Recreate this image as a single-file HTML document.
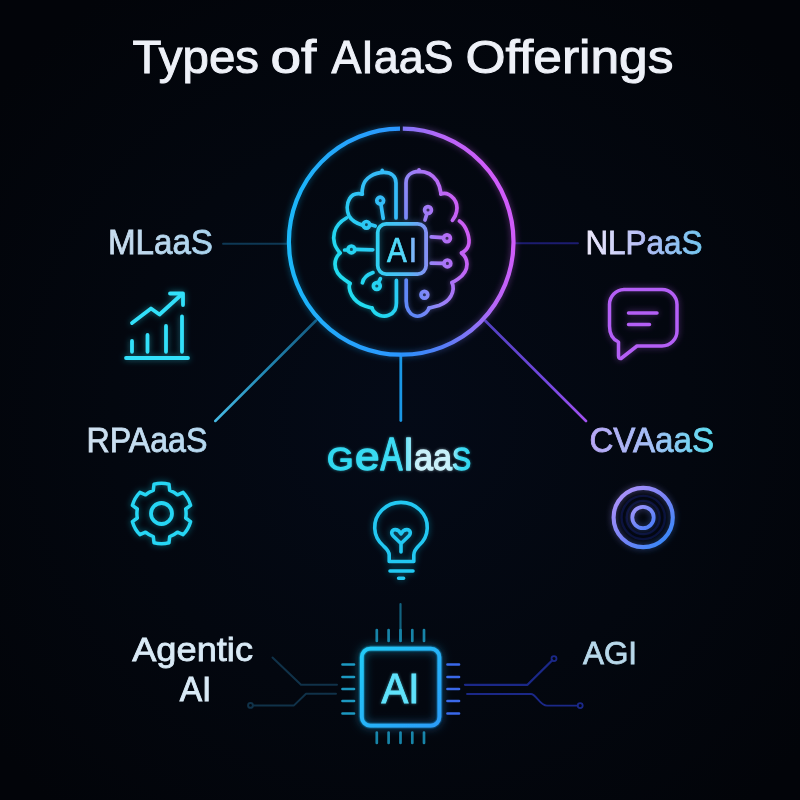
<!DOCTYPE html>
<html lang="en">
<head>
<meta charset="utf-8">
<title>Types of AIaaS Offerings</title>
<style>
  html,body{margin:0;padding:0;background:#03050b;}
  body{width:800px;height:800px;overflow:hidden;font-family:"Liberation Sans",sans-serif;}
  svg{display:block;}
  text{font-family:"Liberation Sans",sans-serif;}
</style>
</head>
<body>
<svg width="800" height="800" viewBox="0 0 800 800">
  <defs>
    <radialGradient id="bg" cx="400" cy="420" r="520" gradientUnits="userSpaceOnUse">
      <stop offset="0" stop-color="#040a17"/>
      <stop offset="0.55" stop-color="#03070f"/>
      <stop offset="1" stop-color="#020409"/>
    </radialGradient>
    <filter id="glow" x="-30%" y="-30%" width="160%" height="160%">
      <feGaussianBlur stdDeviation="3" result="b"/>
      <feColorMatrix in="b" type="matrix" values="1 0 0 0 0  0 1 0 0 0  0 0 1 0 0  0 0 0 0.45 0" result="g"/>
      <feMerge><feMergeNode in="g"/><feMergeNode in="SourceGraphic"/></feMerge>
    </filter>
    <filter id="soft" x="-5%" y="-20%" width="110%" height="140%">
      <feGaussianBlur stdDeviation="0.35"/>
    </filter>
    <linearGradient id="chipg" x1="361" y1="648" x2="440" y2="726" gradientUnits="userSpaceOnUse">
      <stop offset="0" stop-color="#22ccf8"/>
      <stop offset="1" stop-color="#2a9cf8"/>
    </linearGradient>
    <filter id="glowC" x="-40%" y="-40%" width="180%" height="180%">
      <feGaussianBlur stdDeviation="5" result="b"/>
      <feColorMatrix in="b" type="matrix" values="1 0 0 0 0  0 1 0 0 0  0 0 1 0 0  0 0 0 0.6 0" result="g"/>
      <feGaussianBlur in="SourceGraphic" stdDeviation="0.9" result="b2"/>
      <feMerge><feMergeNode in="g"/><feMergeNode in="b2"/><feMergeNode in="SourceGraphic"/></feMerge>
    </filter>
    <linearGradient id="aitxt" x1="0" y1="0" x2="35" y2="0" gradientUnits="userSpaceOnUse">
      <stop offset="0" stop-color="#48dcf8"/>
      <stop offset="0.7" stop-color="#58d4f8"/>
      <stop offset="0.85" stop-color="#78b8f8"/>
      <stop offset="1" stop-color="#80b0f8"/>
    </linearGradient>
    <filter id="glowB" x="-30%" y="-30%" width="160%" height="160%">
      <feGaussianBlur stdDeviation="14" result="b"/>
      <feColorMatrix in="b" type="matrix" values="1 0 0 0 0  0 1 0 0 0  0 0 1 0 0  0 0 0 0.45 0" result="g"/>
      <feMerge><feMergeNode in="g"/><feMergeNode in="SourceGraphic"/></feMerge>
    </filter>
    <filter id="glowS" x="-30%" y="-30%" width="160%" height="160%">
      <feGaussianBlur stdDeviation="1.6" result="b"/>
      <feColorMatrix in="b" type="matrix" values="1 0 0 0 0  0 1 0 0 0  0 0 1 0 0  0 0 0 0.5 0" result="g"/>
      <feMerge><feMergeNode in="g"/><feMergeNode in="SourceGraphic"/></feMerge>
    </filter>
    <linearGradient id="ringL" x1="289" y1="0" x2="401" y2="0" gradientUnits="userSpaceOnUse">
      <stop offset="0" stop-color="#1cb8fa"/>
      <stop offset="0.5" stop-color="#25a4fc"/>
      <stop offset="1" stop-color="#2c96ff"/>
    </linearGradient>
    <linearGradient id="ringR" x1="405" y1="354" x2="534" y2="313.5" gradientUnits="userSpaceOnUse">
      <stop offset="0" stop-color="#2c90fa"/>
      <stop offset="0.3" stop-color="#5a7cf8"/>
      <stop offset="0.52" stop-color="#8674f8"/>
      <stop offset="0.75" stop-color="#b866f8"/>
      <stop offset="1" stop-color="#d05cfa"/>
    </linearGradient>
    <linearGradient id="brainL" x1="70" y1="500" x2="380" y2="300" gradientUnits="userSpaceOnUse">
      <stop offset="0" stop-color="#20dcf0"/>
      <stop offset="1" stop-color="#34bcf8"/>
    </linearGradient>
    <linearGradient id="brainR" x1="420" y1="500" x2="750" y2="420" gradientUnits="userSpaceOnUse">
      <stop offset="0" stop-color="#6088f8"/>
      <stop offset="0.3" stop-color="#9088f8"/>
      <stop offset="0.65" stop-color="#b070f6"/>
      <stop offset="1" stop-color="#d05cf5"/>
    </linearGradient>
    <linearGradient id="aibox" x1="377" y1="0" x2="429" y2="0" gradientUnits="userSpaceOnUse">
      <stop offset="0" stop-color="#2fd0f2"/>
      <stop offset="0.6" stop-color="#55b8f5"/>
      <stop offset="1" stop-color="#8a8cf5"/>
    </linearGradient>
    <linearGradient id="tML" x1="110" y1="0" x2="212" y2="0" gradientUnits="userSpaceOnUse">
      <stop offset="0" stop-color="#c9dcee"/>
      <stop offset="1" stop-color="#a9d3ee"/>
    </linearGradient>
    <linearGradient id="tNLP" x1="586" y1="0" x2="701" y2="0" gradientUnits="userSpaceOnUse">
      <stop offset="0" stop-color="#eeeafc"/>
      <stop offset="0.5" stop-color="#b4bcf5"/>
      <stop offset="1" stop-color="#74c6f0"/>
    </linearGradient>
    <linearGradient id="tRPA" x1="88" y1="0" x2="207" y2="0" gradientUnits="userSpaceOnUse">
      <stop offset="0" stop-color="#cfe0f0"/>
      <stop offset="1" stop-color="#b4d8f0"/>
    </linearGradient>
    <linearGradient id="tCVA" x1="590" y1="0" x2="712" y2="0" gradientUnits="userSpaceOnUse">
      <stop offset="0" stop-color="#b7a6f5"/>
      <stop offset="0.5" stop-color="#a4bff5"/>
      <stop offset="1" stop-color="#5cdcf0"/>
    </linearGradient>
    <linearGradient id="tGEN" x1="330" y1="0" x2="471" y2="0" gradientUnits="userSpaceOnUse">
      <stop offset="0" stop-color="#2fd8f0"/>
      <stop offset="0.5" stop-color="#3fdcf5"/>
      <stop offset="0.62" stop-color="#c8f0fa"/>
      <stop offset="0.85" stop-color="#c8f0fa"/>
      <stop offset="0.92" stop-color="#3fdcf5"/>
      <stop offset="1" stop-color="#2fd8f0"/>
    </linearGradient>
    <linearGradient id="tgt" x1="620" y1="492" x2="668" y2="542" gradientUnits="userSpaceOnUse">
      <stop offset="0" stop-color="#ac92fa"/>
      <stop offset="0.5" stop-color="#7a84f8"/>
      <stop offset="1" stop-color="#3688f8"/>
    </linearGradient>
    <linearGradient id="tgt2" x1="634" y1="507" x2="652" y2="528" gradientUnits="userSpaceOnUse">
      <stop offset="0" stop-color="#a094fa"/>
      <stop offset="1" stop-color="#4a7ef8"/>
    </linearGradient>
    <linearGradient id="lnL" x1="318" y1="322" x2="214" y2="423" gradientUnits="userSpaceOnUse">
      <stop offset="0" stop-color="#145a80"/>
      <stop offset="0.5" stop-color="#2288b4"/>
      <stop offset="1" stop-color="#48bce6"/>
    </linearGradient>
    <linearGradient id="lnR" x1="484" y1="322" x2="587" y2="423" gradientUnits="userSpaceOnUse">
      <stop offset="0" stop-color="#5040c0"/>
      <stop offset="0.6" stop-color="#7448e0"/>
      <stop offset="1" stop-color="#a452f2"/>
    </linearGradient>
  </defs>
  <rect width="800" height="800" fill="url(#bg)"/>

  <!-- title -->
  <g id="title" font-size="47" fill="#eef1f8" stroke="#eef1f8" stroke-width="1" filter="url(#soft)">
    <text id="tt1" x="132.5" y="72.5" textLength="126.5" lengthAdjust="spacingAndGlyphs">Types</text>
    <text id="tt2" x="270.5" y="72.5" textLength="45.9" lengthAdjust="spacingAndGlyphs">of</text>
    <text id="tt3" x="331.5" y="72.5" textLength="122.0" lengthAdjust="spacingAndGlyphs">AIaaS</text>
    <text id="tt4" x="465.5" y="72.5" textLength="208.0" lengthAdjust="spacingAndGlyphs">Offerings</text>
  </g>

  <!-- connector lines -->
  <g fill="none" stroke-linecap="round">
    <line x1="223" y1="243.7" x2="288" y2="243.7" stroke="#0e3854" stroke-width="1.9"/>
    <line x1="514" y1="243.2" x2="578" y2="243.2" stroke="#1c1c70" stroke-width="1.9"/>
    <line x1="316" y1="320.5" x2="215.3" y2="421" stroke="url(#lnL)" stroke-width="2.5"/>
    <line x1="485.5" y1="321" x2="586" y2="421" stroke="url(#lnR)" stroke-width="2.6"/>
    <line x1="400.8" y1="356" x2="400.8" y2="420.5" stroke="#1a96e4" stroke-width="2.8"/>
    <line x1="400.5" y1="604" x2="400.5" y2="641" stroke="#12627f" stroke-width="2.2"/>
  </g>

  <!-- main ring -->
  <g fill="none" stroke-width="4.2" filter="url(#glow)">
    <path d="M400 128.7 A111.6 113 0 0 0 401 354.7" stroke="url(#ringL)"/>
    <path d="M402.8 128.7 A111.6 113 0 0 1 401 354.7" stroke="url(#ringR)"/>
  </g>

  <!-- brain -->
  <g id="brain" transform="translate(320,160) scale(0.2)" fill="none" stroke-width="18.5" stroke-linecap="round" stroke-linejoin="round" filter="url(#glowB)">
    <g stroke="url(#brainL)">
      <path d="M380 290 V115 C380 80 355 62 320 62 C270 62 225 90 215 130 C211 145 210 158 210 170"/>
      <path d="M311 60 V52"/>
      <path d="M212 171 C185 165 160 172 147 195 C132 220 134 255 145 280 C160 305 190 320 216 327"/>
      <path d="M132 290 C105 305 80 330 72 362 C66 385 68 400 72 415 C76 435 88 450 100 465"/>
      <path d="M100 465 C85 480 75 500 75 520 C75 550 95 580 125 600 C135 607 143 612 150 617"/>
      <path d="M150 617 C143 630 148 655 158 675 C172 700 195 720 225 730 C240 735 250 738 260 740"/>
      <path d="M260 740 C265 758 280 770 300 777 C330 787 360 775 375 750 C381 738 382 725 382 715 V602"/>
      <circle cx="301" cy="203" r="17"/><path d="M305 224 L316 292"/>
      <circle cx="232" cy="324" r="16.5"/><path d="M251 322 L276 330"/>
      <circle cx="157" cy="447" r="17"/><path d="M176 447 L264 449 M123 450 L138 450"/>
      <path d="M212 614 C217 590 240 572 265 563"/>
      <circle cx="284" cy="630" r="17"/><path d="M292 612 L302 593"/>
    </g>
    <g stroke="url(#brainR)">
      <path d="M430 290 V115 C430 80 455 58 495 57 C530 57 565 75 585 105 C595 122 602 145 605 168"/>
      <path d="M495 56 V49"/>
      <path d="M604 170 C625 162 650 172 668 192 C682 210 688 235 683 258 C680 275 672 290 662 302"/>
      <path d="M697 305 C715 318 730 340 738 365 C746 390 748 410 742 428 C737 443 725 456 708 465"/>
      <path d="M708 465 C725 480 735 500 735 520 C735 550 715 578 690 595 C680 602 670 608 660 612"/>
      <path d="M660 613 C668 630 668 655 655 680 C642 703 620 718 595 727 C575 733 560 736 545 740"/>
      <path d="M545 741 C540 755 525 770 505 778 C480 786 455 775 442 752 C434 738 431 722 431 705 V600"/>
      <circle cx="540" cy="250" r="17"/><path d="M534 270 L525 300"/>
      <path d="M556 384 L615 388"/><circle cx="635" cy="391" r="17"/>
      <path d="M556 516 L617 517"/><circle cx="637" cy="517" r="17"/>
      <circle cx="522" cy="674" r="17"/>
    </g>
  </g>
  <rect x="377.7" y="223.9" width="48.4" height="50.2" rx="8.5" fill="none" stroke="url(#aibox)" stroke-width="3.8" filter="url(#glow)"/>
  <text transform="translate(387,261.5) scale(0.835,1)" x="0 26.1" y="0" font-size="35.5" fill="url(#aitxt)" stroke="url(#aitxt)" stroke-width="0.7" filter="url(#soft)">AI</text>

  <!-- labels -->
  <g stroke-width="0.8" filter="url(#soft)">
    <text id="tml" x="107.9" y="253.6" font-size="34.5" fill="url(#tML)" stroke="url(#tML)" textLength="105.1" lengthAdjust="spacingAndGlyphs">MLaaS</text>
    <text id="tnlp" x="585.4" y="253.5" font-size="33.5" fill="url(#tNLP)" stroke="url(#tNLP)" textLength="117.1" lengthAdjust="spacingAndGlyphs">NLPaaS</text>
    <text id="trpa" x="86.4" y="452.0" font-size="34.5" fill="url(#tRPA)" stroke="url(#tRPA)" textLength="121.1" lengthAdjust="spacingAndGlyphs">RPAaaS</text>
    <text id="tcva" x="589.4" y="451.9" font-size="34.5" fill="url(#tCVA)" stroke="url(#tCVA)" textLength="124.6" lengthAdjust="spacingAndGlyphs">CVAaaS</text>
    <text id="tag1" x="132.2" y="661.2" font-size="34" fill="#d9eaf6" stroke="#d9eaf6" textLength="120.8" lengthAdjust="spacingAndGlyphs">Agentic</text>
    <text id="tag2" x="179.7" y="701.2" font-size="35" fill="#d9eaf6" stroke="#d9eaf6" stroke-width="0.9" textLength="31.7" lengthAdjust="spacingAndGlyphs">AI</text>
    <text id="tagi" x="583.0" y="663.5" font-size="32" fill="#b8d8ea" stroke="#b8d8ea" textLength="54.1" lengthAdjust="spacingAndGlyphs">AGI</text>
  </g>
  <text id="tgen" aria-label="GeAIaaS" y="469.7" fill="url(#tGEN)" stroke="url(#tGEN)" stroke-width="1.3" stroke-linejoin="round" filter="url(#glowS)"><tspan x="327" font-size="31.5" textLength="26.5" lengthAdjust="spacingAndGlyphs">G</tspan><tspan x="355" font-size="38.5" textLength="24.5" lengthAdjust="spacingAndGlyphs">e</tspan><tspan x="380.5" font-size="47" textLength="22" lengthAdjust="spacingAndGlyphs">A</tspan><tspan x="403" font-size="47" textLength="11" lengthAdjust="spacingAndGlyphs">I</tspan><tspan x="414" font-size="37" textLength="19" lengthAdjust="spacingAndGlyphs">a</tspan><tspan x="433" font-size="37" textLength="19" lengthAdjust="spacingAndGlyphs">a</tspan><tspan x="452" font-size="32" textLength="19" lengthAdjust="spacingAndGlyphs">S</tspan></text>

  <!-- chart icon -->
  <g fill="none" stroke="#32e0fa" stroke-width="3.8" stroke-linecap="round" stroke-linejoin="round" filter="url(#glow)">
    <path d="M126 358 H188"/>
    <path d="M132 341 V351.8 M147.5 335 V351.8 M166 326 V351.8 M182 316.5 V351.8"/>
    <path d="M132 323 L151 308.5 L159.5 314.5 L181 295"/>
    <path d="M170 293.5 H183 V305"/>
  </g>

  <!-- chat icon -->
  <g fill="none" stroke="#b45ef6" stroke-width="3.5" stroke-linecap="round" stroke-linejoin="round" filter="url(#glow)">
    <path d="M624 289.5 H662 A15 15 0 0 1 677 304.5 V331 A15 15 0 0 1 662 346 H637 L621 358.5 Q618.5 359 618.5 356 V342 Q609.5 338 609.5 326 V304.5 A15 15 0 0 1 624 289.5 Z"/>
    <path d="M628.5 313 H657 M628.5 324.5 H649.5"/>
  </g>

  <!-- gear icon -->
  <g id="gear" fill="none" stroke="#26d6f4" stroke-linejoin="round" filter="url(#glow)">
    <circle cx="161.5" cy="513.5" r="10.5" stroke-width="3.8"/>
    <path stroke-width="3.5" d="M153.30 490.31 L154.03 484.24 A30.2 30.2 0 0 1 168.97 484.24 L169.70 490.31 A24.6 24.6 0 0 1 177.48 494.80 L183.11 492.40 A30.2 30.2 0 0 1 190.58 505.34 L185.69 509.01 A24.6 24.6 0 0 1 185.69 517.99 L190.58 521.66 A30.2 30.2 0 0 1 183.11 534.60 L177.48 532.20 A24.6 24.6 0 0 1 169.70 536.69 L168.97 542.76 A30.2 30.2 0 0 1 154.03 542.76 L153.30 536.69 A24.6 24.6 0 0 1 145.52 532.20 L139.89 534.60 A30.2 30.2 0 0 1 132.42 521.66 L137.31 517.99 A24.6 24.6 0 0 1 137.31 509.01 L132.42 505.34 A30.2 30.2 0 0 1 139.89 492.40 L145.52 494.80 A24.6 24.6 0 0 1 153.30 490.31 Z"/>
  </g>

  <!-- target icon -->
  <g fill="none">
    <circle cx="643.2" cy="517.5" r="16.6" stroke="#111a5c" stroke-width="2.4" opacity="0.55"/>
    <circle cx="643.2" cy="517.5" r="21.6" stroke="#111a5c" stroke-width="2.4" opacity="0.55"/>
    <g filter="url(#glow)">
      <circle cx="643.2" cy="517.5" r="29.6" stroke="url(#tgt)" stroke-width="4.1"/>
      <circle cx="643" cy="517.5" r="10.7" stroke="url(#tgt2)" stroke-width="3.8"/>
    </g>
  </g>

  <!-- bulb icon -->
  <g fill="none" stroke="#22c8f2" stroke-width="3.6" stroke-linecap="round" stroke-linejoin="round" filter="url(#glow)">
    <path d="M389.2 561.5 V555 C389.2 551 386.5 549 383.5 546 A26.3 25 0 1 1 418.5 546 C415.5 549 413.8 551 413.8 555 V561.5 Z"/>
    <path d="M390 571 H413 M398.6 578.2 H403.6"/>
    <path d="M401 552 V543.5 L393.2 536 C390.6 533.4 391.6 529.6 395.2 529.6 C397.6 529.6 399.6 531.2 401 533.8 C402.4 531.2 404.4 529.6 406.8 529.6 C410.4 529.6 411.4 533.4 408.8 536 L401 543.5"/>
  </g>

  <!-- chip -->
  <g fill="none" stroke-linecap="round">
    <g stroke="#1784a8" stroke-width="2.7">
      <path d="M376.8 630 V641 M388.6 630 V641 M400.5 630 V641 M412.3 630 V641 M424 630 V641"/>
      <path d="M376.8 732.5 V743 M388.6 732.5 V743 M400.5 732.5 V743 M412.3 732.5 V743 M424 732.5 V743"/>
    </g>
    <g stroke="#1c98c0" stroke-width="2.7">
      <path d="M342.5 664.5 H354 M342.5 677 H354 M342.5 689 H354 M342.5 701 H354 M342.5 713.5 H354"/>
    </g>
    <g stroke="#3a68ea" stroke-width="2.7">
      <path d="M447.5 664.5 H459 M447.5 677 H459 M447.5 689 H459 M447.5 701 H459 M447.5 713.5 H459"/>
    </g>
    <rect x="361.8" y="648.6" width="77.6" height="77" rx="8.5" stroke="url(#chipg)" stroke-width="3.8" filter="url(#glowC)"/>
    <g stroke="#103249" stroke-width="2" stroke-linejoin="round">
      <path d="M337 684.8 H301 L272.5 657.5"/>
      <path d="M336 693.8 H306 L294 705.4 H253"/>
      <circle cx="250.5" cy="705.4" r="2.4"/>
    </g>
    <g stroke="#1b2888" stroke-linejoin="round">
      <path d="M465 684.8 H527.5 L552.3 660.2" stroke-width="2.3"/>
      <circle cx="554" cy="658.6" r="2.5" stroke-width="1.8"/>
      <path d="M467 694 H531 C536 694 540 705.6 547 705.6 H577.5" stroke-width="1.8"/>
      <circle cx="580.2" cy="705.6" r="2.5" stroke-width="1.8"/>
    </g>
  </g>
  <text x="400.5" y="702.5" text-anchor="middle" font-size="42" fill="#5fe2fb" stroke="#5fe2fb" stroke-width="0.9" textLength="38" lengthAdjust="spacingAndGlyphs" filter="url(#glowS)">AI</text>
</svg>
</body>
</html>
